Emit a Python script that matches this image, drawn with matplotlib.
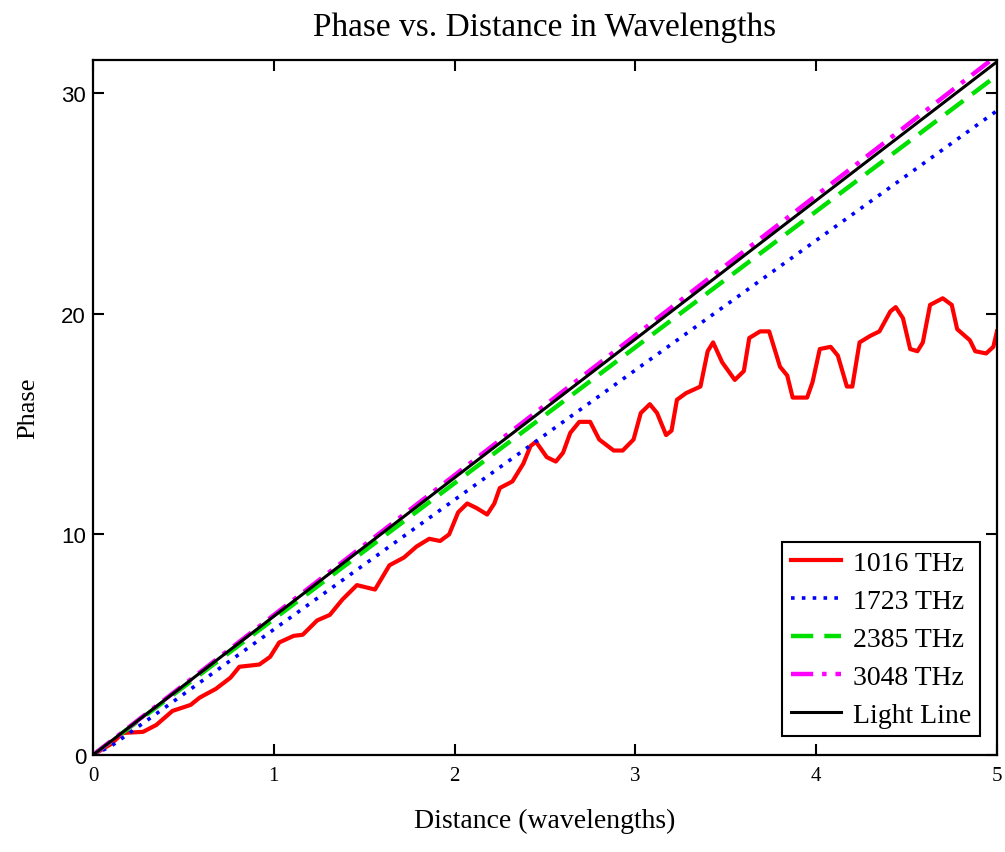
import matplotlib
matplotlib.use("Agg")
import matplotlib.pyplot as plt
import numpy as np

# Red curve (1016 THz)
red_x = [0, 0.02, 0.1, 0.166, 0.277, 0.35, 0.44, 0.54, 0.59, 0.68, 0.76, 0.81,
         0.92, 0.98, 1.03, 1.11, 1.16, 1.24, 1.31, 1.38, 1.46, 1.51, 1.56, 1.64,
         1.72, 1.79, 1.86, 1.92, 1.97, 2.02, 2.07, 2.12, 2.18, 2.22, 2.25, 2.32,
         2.38, 2.42, 2.45, 2.51, 2.56, 2.60, 2.64, 2.69, 2.75, 2.80, 2.88, 2.93,
         2.99, 3.03, 3.08, 3.12, 3.17, 3.20, 3.23, 3.28, 3.36, 3.40, 3.43, 3.48,
         3.55, 3.60, 3.63, 3.69, 3.74, 3.80, 3.84, 3.87, 3.95, 3.98, 4.02, 4.08,
         4.12, 4.17, 4.20, 4.24, 4.30, 4.35, 4.41, 4.44, 4.48, 4.52, 4.56, 4.59,
         4.63, 4.70, 4.75, 4.78, 4.85, 4.88, 4.94, 4.98, 5.0]
red_y = [0, 0.1, 0.5, 1.0, 1.05, 1.36, 2.0, 2.27, 2.6, 3.0, 3.5, 4.0,
         4.1, 4.45, 5.1, 5.4, 5.45, 6.1, 6.35, 7.05, 7.7, 7.6, 7.5, 8.6,
         8.95, 9.45, 9.8, 9.7, 10.0, 11.0, 11.4, 11.2, 10.9, 11.4, 12.1, 12.4,
         13.2, 14.0, 14.2, 13.5, 13.3, 13.7, 14.6, 15.1, 15.1, 14.3, 13.8, 13.8,
         14.3, 15.5, 15.9, 15.5, 14.5, 14.7, 16.1, 16.4, 16.7, 18.3, 18.7, 17.8,
         17.0, 17.4, 18.9, 19.2, 19.2, 17.6, 17.2, 16.2, 16.2, 16.9, 18.4, 18.5,
         18.1, 16.7, 16.7, 18.7, 19.0, 19.2, 20.1, 20.3, 19.8, 18.4, 18.3, 18.7,
         20.4, 20.7, 20.4, 19.3, 18.8, 18.3, 18.2, 18.5, 19.2]

# Near-straight curves
blue_x = [0, 0.1, 5]
blue_y = [0, 0.4, 29.2]
green_x = [0, 5]
green_y = [0, 30.8]
magenta_x = [0, 5]
magenta_y = [0, 31.7]
light_x = [0, 5]
light_y = [0, 31.42]

labels = ["1016 THz", "1723 THz", "2385 THz", "3048 THz", "Light Line"]
x_ticks = [0, 1, 2, 3, 4, 5]
y_ticks = [0, 10, 20, 30]

serif = "Liberation Serif"

fig = plt.figure(figsize=(10.05, 8.53), dpi=100)
ax = fig.add_axes([0.0925, 0.1137, 0.8995, 0.8148])

ax.plot(red_x, red_y, color="red", lw=3, label=labels[0],
        solid_joinstyle="round")
ax.plot(blue_x, blue_y, color="blue", lw=2.6,
        linestyle=(0, (1, 2)), label=labels[1])
ax.plot(green_x, green_y, color="#00e000", lw=3.2,
        linestyle=(0, (5, 2.5)), label=labels[2])
ax.plot(magenta_x, magenta_y, color="magenta", lw=3.2,
        linestyle=(0, (5, 2, 1, 2)), label=labels[3])
ax.plot(light_x, light_y, color="black", lw=2.2, label=labels[4])

ax.set_xlim(0, 5)
ax.set_ylim(0, 31.5)
ax.set_xticks(x_ticks)
ax.set_yticks(y_ticks)

ax.tick_params(direction="in", length=8, width=1.5,
               top=True, right=True, labelsize=15, pad=8)
ax.tick_params(axis="y", labelsize=16, pad=5)
for lab in ax.get_xticklabels():
    lab.set_fontfamily(serif)
for lab in ax.get_yticklabels():
    lab.set_fontfamily("Liberation Sans")

for s in ax.spines.values():
    s.set_linewidth(1.6)

ax.set_title("Phase vs. Distance in Wavelengths",
             fontsize=24, family=serif, pad=18)
ax.set_xlabel("Distance (wavelengths)", fontsize=20, family=serif,
              labelpad=16)
ax.set_ylabel("Phase", fontsize=19, family=serif, labelpad=16)

leg = ax.legend(loc="lower right", bbox_to_anchor=(0.981, 0.027),
                borderaxespad=0, fancybox=False, framealpha=1,
                edgecolor="black", prop={"family": serif, "size": 20},
                handlelength=1.8, handletextpad=0.45, labelspacing=0.45,
                borderpad=0.3)
leg.get_frame().set_linewidth(1.5)

fig.savefig("out.png", dpi=100)
